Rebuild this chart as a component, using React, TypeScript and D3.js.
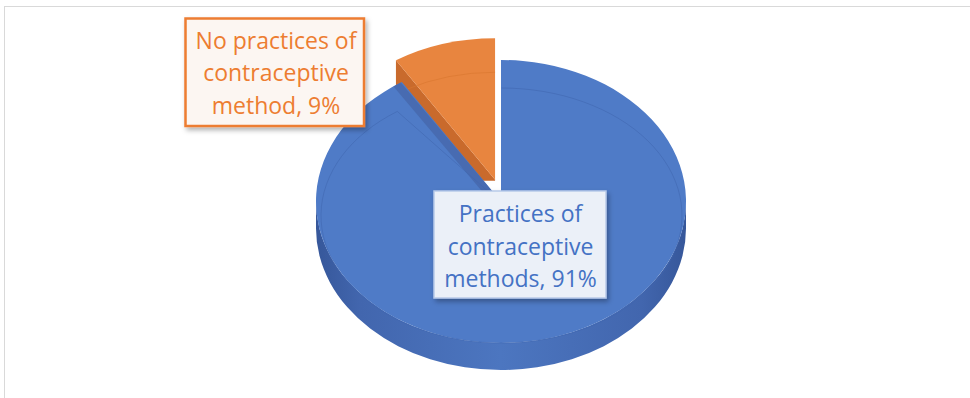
import React from "react";
import * as d3 from "d3";

// ---- data ----
const categories = ["Practices of contraceptive methods", "No practices of contraceptive method"];
const values = [91, 9];
const labelLines = [
  ["Practices of", "contraceptive", "methods, 91%"],
  ["No practices of", "contraceptive", "method, 9%"],
];
const topColors = ["#4F7BC7", "#E8853F"];
const edgeColors = ["#4668AD", "#C96A2C"];
const textColors = ["#4472C4", "#ED7D31"];
const explodeX = [0, 0.115];
const explodeY = [0, 0.16];

const W = 970;
const H = 398;

export default function App() {
  const cx = 501, cy = 201.5, rx = 185, ry = 141.5, depth = 27;
  const pie = d3.pie<number>().sort(null).startAngle(0).endAngle(2 * Math.PI)(values);
  const pt = (a: number, ox = 0, oy = 0, rX = rx, rY = ry, cX = cx, cY = cy) =>
    [cX + ox + rX * Math.sin(a), cY + oy - rY * Math.cos(a)] as [number, number];

  const slices = pie.map((p, i) => {
    const mid = (p.startAngle + p.endAngle) / 2;
    const ox = rx * explodeX[i] * Math.sin(mid);
    const oy = -ry * explodeY[i] * Math.cos(mid);
    const c: [number, number] = [cx + ox, cy + oy];
    const p0 = pt(p.startAngle, ox, oy);
    const p1 = pt(p.endAngle, ox, oy);
    const large = p.endAngle - p.startAngle > Math.PI ? 1 : 0;
    const top = `M${c[0]},${c[1]} L${p0[0]},${p0[1]} A${rx},${ry} 0 ${large} 1 ${p1[0]},${p1[1]} Z`;
    const s0 = Math.max(p.startAngle, Math.PI / 2);
    const s1 = Math.min(p.endAngle, (3 * Math.PI) / 2);
    let side = "";
    if (s1 > s0) {
      const q0 = pt(s0, ox, oy);
      const q1 = pt(s1, ox, oy);
      side = `M${q0[0]},${q0[1]} A${rx},${ry} 0 0 1 ${q1[0]},${q1[1]} L${q1[0]},${q1[1] + depth} A${rx},${ry} 0 0 0 ${q0[0]},${q0[1] + depth} Z`;
    }
    const faceStart = `M${c[0]},${c[1]} L${p0[0]},${p0[1]} L${p0[0]},${p0[1] + depth} L${c[0]},${c[1] + depth} Z`;
    return { p, i, c, p0, p1, top, side, faceStart, ox, oy };
  });

  const blue = slices[0];
  const orange = slices[1];

  // bevel band along blue's end radial edge
  const bEnd = blue.p1;
  const ex = blue.c[0] - bEnd[0], ey = blue.c[1] - bEnd[1];
  const el = Math.hypot(ex, ey);
  const nx = (-ey / el) * 8, ny = (ex / el) * 8;
  const band = `M${bEnd[0] - 10},${bEnd[1] - 10} L${blue.c[0]},${blue.c[1]} L${blue.c[0] + nx},${blue.c[1] + ny} L${bEnd[0] + nx - 10},${bEnd[1] + ny - 10} Z`;

  // inner bevel line of blue top face
  const irx = 180.5, iry = 127.5, icx = 501.5, icy = 215.5;
  const i0 = pt(blue.p.startAngle, 0, 0, irx, iry, icx, icy);
  const iA = blue.p.endAngle - 0.05;
  const i1 = pt(iA, 0, 0, irx, iry, icx, icy);
  const bevel = `M${i0[0]},${i0[1]} A${irx},${iry} 0 1 1 ${i1[0]},${i1[1]} L${blue.c[0] - 6},${blue.c[1] - 4}`;

  // orange inner arc line
  const o0 = pt(orange.p.startAngle + 0.05, orange.ox, orange.oy + 26, rx - 4, ry - 8);
  const o1 = pt(orange.p.endAngle, orange.ox, orange.oy + 26, rx - 4, ry - 8);
  const oArc = `M${o0[0]},${o0[1]} A${rx - 4},${ry - 8} 0 0 1 ${o1[0]},${o1[1]}`;

  const fontSize = 23;
  const lineH = 32.5;

  const labels = [
    { box: [434, 191, 172, 107], cxT: 520.5, base: 222, fill: "#EBF0F8", stroke: "#B8CAE9", sw: 1.5 },
    { box: [185.5, 18.5, 178.5, 107.5], cxT: 276, base: 48.5, fill: "#FCF6F2", stroke: "#ED7D31", sw: 2.5 },
  ];

  return (
    <svg width={W} height={H} style={{ position: "absolute", left: 0, top: 0, background: "#fff" }}
      fontFamily="'Open Sans', sans-serif">
      <defs>
        <linearGradient id="sideGrad" x1="0" x2="1" y1="0" y2="0">
          <stop offset="0" stopColor="#36579A" />
          <stop offset="0.12" stopColor="#4266AE" />
          <stop offset="0.5" stopColor="#4C76C0" />
          <stop offset="0.88" stopColor="#4266AE" />
          <stop offset="1" stopColor="#36579A" />
        </linearGradient>
        <filter id="shadow" x="-20%" y="-20%" width="140%" height="150%">
          <feDropShadow dx="2" dy="3" stdDeviation="2.5" floodColor="#000" floodOpacity="0.3" />
        </filter>
        <clipPath id="blueTopClip">
          <path d={blue.top} />
        </clipPath>
        <clipPath id="orangeClip">
          <rect x={0} y={0} width={W} height={orange.c[1] + 1} />
        </clipPath>
      </defs>
      <rect x={4.5} y={6.5} width={1000} height={600} fill="#fff" stroke="#D9D9D9" strokeWidth={1} />

      {/* orange exploded slice */}
      <g clipPath="url(#orangeClip)">
        <path d={orange.faceStart} fill={edgeColors[1]} />
      </g>
      <path d={orange.top} fill={topColors[1]} />
      <path d={oArc} fill="none" stroke="#D9762F" strokeWidth={1} opacity={0.6} />

      {/* blue slice */}
      <path d={blue.side} fill="url(#sideGrad)" />
      <path d={blue.top} fill={topColors[0]} />
      <g clipPath="url(#blueTopClip)">
        <path d={band} fill={edgeColors[0]} opacity={0.85} />
      </g>
      <path d={bevel} fill="none" stroke="#3F66AE" strokeWidth={1} opacity={0.55} />

      {/* labels */}
      {labels.map((l, i) => (
        <g key={categories[i]}>
          <rect x={l.box[0]} y={l.box[1]} width={l.box[2]} height={l.box[3]} fill={l.fill}
            stroke={l.stroke} strokeWidth={l.sw} filter="url(#shadow)" />
          {labelLines[i].map((t, j) => (
            <text key={j} x={l.cxT} y={l.base + j * lineH} textAnchor="middle" fontSize={fontSize}
              fill={textColors[i]}>{t}</text>
          ))}
        </g>
      ))}
    </svg>
  );
}
